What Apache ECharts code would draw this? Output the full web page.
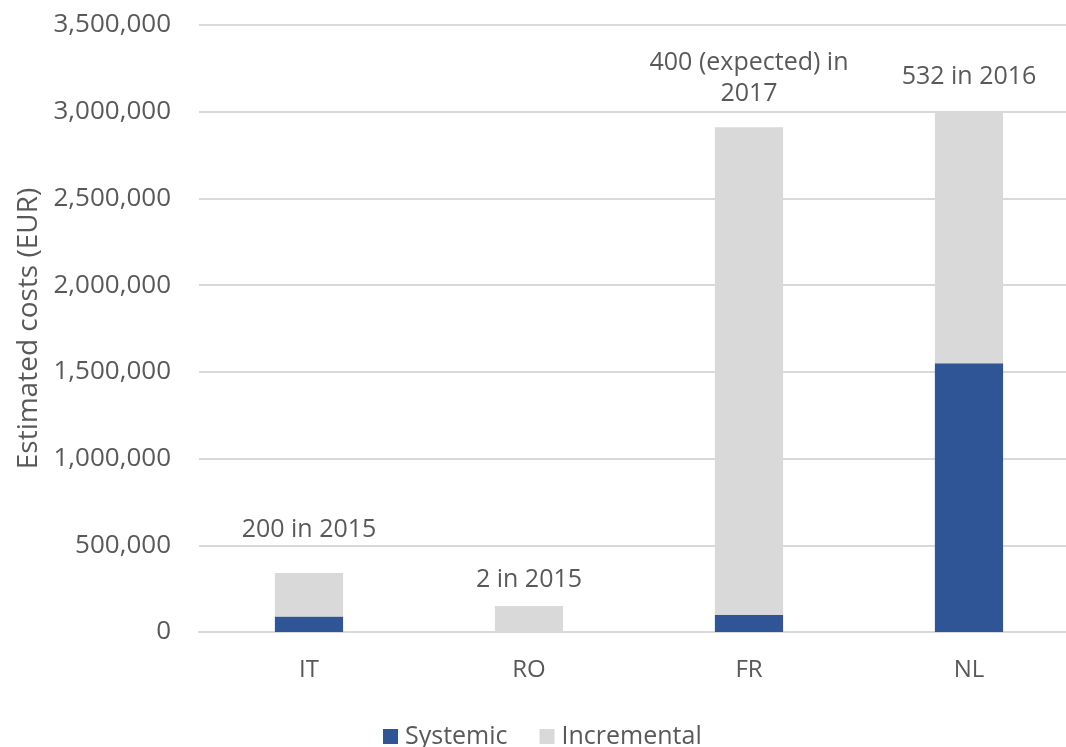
<!DOCTYPE html>
<html>
<head>
<meta charset="utf-8">
<script src="https://cdn.jsdelivr.net/npm/echarts@6/dist/echarts.min.js"></script>
<style>
html,body{margin:0;padding:0;background:#fff;}
#chart{width:1066px;height:747px;}
</style>
</head>
<body>
<div id="chart"></div>
<script>
const categories = ['IT', 'RO', 'FR', 'NL'];
const systemic = [90000, 0, 100000, 1550000];
const incremental = [250000, 150000, 2810000, 1450000];
const barNotes = ['200 in 2015', '2 in 2015', '400 (expected) in\n2017', '532 in 2016'];
const yMin = 0, yMax = 3500000, yStep = 500000;

const noteDistance = [28, 11, 18, 19];
const FONT = 'Open Sans';
const TXT = '#595959';

const chart = echarts.init(document.getElementById('chart'), null, {renderer: 'canvas'});
chart.setOption({
  backgroundColor: '#fff',
  animation: false,
  textStyle: {fontFamily: FONT},
  grid: {left: 199, width: 880, top: 25, bottom: 115, containLabel: false, outerBoundsMode: 'none'},
  legend: {
    top: 724,
    left: 383,
    padding: 0,
    itemWidth: 15, itemHeight: 15, itemGap: 32,
    icon: 'rect',
    textStyle: {fontFamily: FONT, fontSize: 25, color: TXT, padding: [0, 0, 0, 2]},
    data: ['Systemic', 'Incremental']
  },
  xAxis: {
    type: 'category',
    data: categories,
    axisTick: {show: false},
    axisLine: {lineStyle: {color: '#D9D9D9', width: 2}},
    axisLabel: {fontFamily: FONT, fontSize: 24, color: TXT, margin: 26}
  },
  yAxis: {
    type: 'value',
    min: yMin, max: yMax, interval: yStep,
    name: 'Estimated costs (EUR)',
    nameLocation: 'middle',
    nameGap: 154,
    nameTextStyle: {fontFamily: FONT, fontSize: 28, color: TXT},
    axisLine: {show: false},
    axisTick: {show: false},
    splitLine: {lineStyle: {color: '#D9D9D9', width: 2}},
    axisLabel: {
      fontFamily: FONT, fontSize: 26, color: TXT, margin: 28,
      formatter: v => v.toLocaleString('en-US')
    }
  },
  series: [
    {
      name: 'Systemic', type: 'bar', stack: 'total',
      barWidth: '31%',
      itemStyle: {color: '#2F5597'},
      data: systemic
    },
    {
      name: 'Incremental', type: 'bar', stack: 'total',
      barWidth: '31%',
      itemStyle: {color: '#D9D9D9'},
      data: incremental.map((v, i) => ({
        value: v,
        label: {
          show: true, position: 'top', distance: noteDistance[i],
          formatter: barNotes[i],
          fontFamily: FONT, fontSize: 25, color: TXT, lineHeight: 31, align: 'center'
        }
      }))
    }
  ]
});
</script>
</body>
</html>
